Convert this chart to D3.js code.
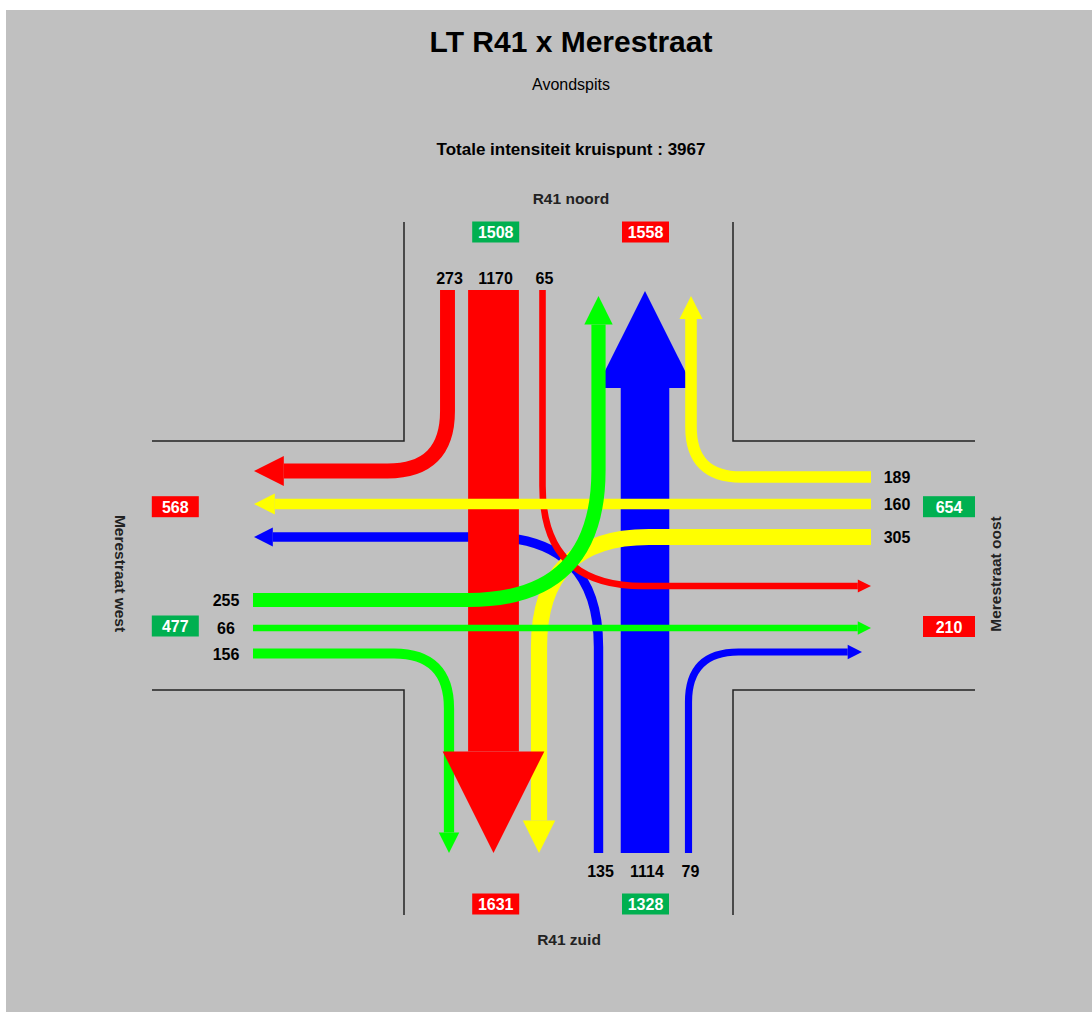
<!DOCTYPE html>
<html>
<head>
<meta charset="utf-8">
<script src="https://cdn.jsdelivr.net/npm/d3@7"></script>
<style>
body { margin: 0; background: #fff; }
svg { display: block; font-family: "Liberation Sans", Arial, sans-serif; }
</style>
</head>
<body>
<script>
// kruispunttelling - avondspits
const title = "LT R41 x Merestraat";
const subtitle = "Avondspits";
const totalLabel = "Totale intensiteit kruispunt : ";
const approaches = ["noord", "oost", "zuid", "west"];
const roadNames = ["R41 noord", "Merestraat oost", "R41 zuid", "Merestraat west"];
const moves = ["rechts", "rechtdoor", "links"];
// volumes per tak: rechtsaf, rechtdoor, linksaf
const volNoord = [273, 1170, 65];
const volOost = [189, 160, 305];
const volZuid = [79, 1114, 135];
const volWest = [156, 66, 255];
const flowColors = ["#ff0000", "#ffff00", "#0000ff", "#00ff00"];

const volumes = { noord: volNoord, oost: volOost, zuid: volZuid, west: volWest };

const W = 1092, H = 1012;
const svg = d3.select("body").append("svg").attr("width", W).attr("height", H);

svg.append("rect").attr("x", 6).attr("y", 10).attr("width", W - 6).attr("height", H - 10).attr("fill", "#c0c0c0");

// ---- layout ----
const isV = a => a == "noord" || a == "zuid";
// lane positions across each leg (x for noord/zuid, y for oost/west)
const laneIn = {
	noord: [447.5, 493.5, 542.5],
	oost: [477, 504, 537],
	zuid: [688.5, 645, 598.5],
	west: [653.5, 628, 600]
};
const laneOut = {
	noord: { west: 598.5, zuid: 645, oost: 691 },
	zuid: { west: 449, noord: 493.5, oost: 539 },
	west: { noord: 471, oost: 504, zuid: 537 },
	oost: { noord: 586, west: 628, zuid: 652 }
};
const edgeIn = { noord: 290, zuid: 853, west: 253, oost: 871 };
const edgeOut = { noord: 296, zuid: 853, west: 254, oost: 871 };
const tipTrim = { "zuid-oost": 9, "zuid-noord": -5 };
const turnLead = { noord: [60, 0, 100], oost: [50, 0, 110], zuid: [50, 0, 110], west: [55, 0, 130] };
const inDir = { noord: [0, 1], oost: [-1, 0], zuid: [0, -1], west: [1, 0] };
const outDir = { noord: [0, -1], oost: [1, 0], zuid: [0, 1], west: [-1, 0] };

const wScale = d3.scaleLinear().domain([0, 1000]).range([4, 44]);

function legPoint(a, lane, e) { return isV(a) ? [lane, e] : [e, lane]; }

// build flows
const flows = [];
approaches.forEach(function (a, i) {
	moves.forEach(function (m, j) {
		const dest = approaches[(i + [3, 2, 1][j]) % 4];
		flows.push({ from: a, to: dest, move: j, value: volumes[a][j], color: flowColors[i] });
	});
});

// totals
const totIn = {}, totOut = {};
approaches.forEach(function (a) {
	totIn[a] = d3.sum(flows.filter(f => f.from == a), f => f.value);
	totOut[a] = d3.sum(flows.filter(f => f.to == a), f => f.value);
});
const total = d3.sum(approaches, a => totIn[a]);

// road edges
const road = svg.append("g").attr("fill", "none").attr("stroke", "#222").attr("stroke-width", 1.5);
road.append("path").attr("d", "M404,222V441H152");
road.append("path").attr("d", "M733,222V441H975");
road.append("path").attr("d", "M152,690H404V915");
road.append("path").attr("d", "M975,690H733V915");

// draw order (bottom -> top)
const order = [["zuid", 2], ["zuid", 1], ["oost", 2], ["noord", 2], ["west", 0], ["noord", 1],
	["oost", 1], ["west", 2], ["west", 1], ["noord", 0], ["oost", 0], ["zuid", 0]];

const flowG = svg.append("g");
order.forEach(function (o) {
	const f = flows.find(d => d.from == o[0] && d.move == o[1]);
	const w = wScale(f.value);
	const din = inDir[f.from], dout = outDir[f.to];
	const start = legPoint(f.from, laneIn[f.from][f.move], edgeIn[f.from]);
	const trim = tipTrim[f.from + "-" + f.to] || 0;
	let tip = legPoint(f.to, laneOut[f.to][f.from], edgeOut[f.to]);
	tip = [tip[0] - dout[0] * trim, tip[1] - dout[1] * trim];
	const hl = 2 * w;
	const base = [tip[0] - dout[0] * hl, tip[1] - dout[1] * hl];

	const p = d3.path();
	p.moveTo(start[0], start[1]);
	if (f.move != 1) {
		const c = isV(f.from) ? [start[0], tip[1]] : [tip[0], start[1]];
		const d = turnLead[f.from][f.move];
		p.lineTo(c[0] - din[0] * d, c[1] - din[1] * d);
		p.quadraticCurveTo(c[0], c[1], c[0] + dout[0] * d, c[1] + dout[1] * d);
	}
	p.lineTo(base[0], base[1]);

	flowG.append("path")
		.attr("d", p.toString())
		.attr("fill", "none")
		.attr("stroke", f.color)
		.attr("stroke-width", w);

	const perp = [-dout[1], dout[0]];
	const head = [tip,
		[base[0] + perp[0] * w, base[1] + perp[1] * w],
		[base[0] - perp[0] * w, base[1] - perp[1] * w]];
	flowG.append("polygon")
		.attr("points", head.map(q => q.join(",")).join(" "))
		.attr("fill", f.color);
});

// volume labels at the approach
const labelG = svg.append("g").attr("font-size", 16).attr("font-weight", "bold").attr("fill", "#000").attr("text-anchor", "middle");
flows.forEach(function (f) {
	const lane = laneIn[f.from][f.move];
	let x, y;
	if (f.from == "noord") { x = lane + 2; y = 284; }
	else if (f.from == "zuid") { x = lane + 2; y = 877; }
	else if (f.from == "west") { x = 226; y = lane + 6; }
	else { x = 897; y = lane + 6; }
	labelG.append("text").attr("x", x).attr("y", y).text(f.value);
});

// totals boxes
const boxPos = {
	noord: { "in": [495.7, 232], out: [645.5, 232] },
	zuid: { "in": [645.5, 904], out: [495.7, 904] },
	west: { "in": [175.3, 626], out: [175.3, 506.7] },
	oost: { "in": [949, 506.7], out: [949, 626.5] }
};
approaches.forEach(function (a) {
	const bw = a == "oost" ? 52 : 47, bh = 21;
	[["in", totIn[a], "#00b050"], ["out", totOut[a], "#ff0000"]].forEach(function (b) {
		const c = boxPos[a][b[0]];
		svg.append("rect").attr("x", c[0] - bw / 2).attr("y", c[1] - bh / 2)
			.attr("width", bw).attr("height", bh).attr("fill", b[2]);
		svg.append("text").attr("x", c[0]).attr("y", c[1] + 6)
			.attr("text-anchor", "middle").attr("font-size", 16).attr("font-weight", "bold")
			.attr("fill", "#fff").text(b[1]);
	});
});

// road names
const nameG = svg.append("g").attr("font-size", 15.5).attr("font-weight", "bold").attr("fill", "#222").attr("text-anchor", "middle");
nameG.append("text").attr("x", 571).attr("y", 204).text(roadNames[0]);
nameG.append("text").attr("x", 569).attr("y", 944.5).text(roadNames[2]);
nameG.append("text").attr("transform", "translate(120,573.5) rotate(90)").attr("dy", "0.35em").text(roadNames[3]);
nameG.append("text").attr("transform", "translate(996,574) rotate(-90)").attr("dy", "0.35em").text(roadNames[1]);

// titles
svg.append("text").attr("x", 571).attr("y", 51.5).attr("text-anchor", "middle")
	.attr("font-size", 30).attr("font-weight", "bold").text(title);
svg.append("text").attr("x", 571).attr("y", 89.5).attr("text-anchor", "middle")
	.attr("font-size", 16).text(subtitle);
svg.append("text").attr("x", 571).attr("y", 155).attr("text-anchor", "middle")
	.attr("font-size", 17).attr("font-weight", "bold").text(totalLabel + total);
</script>
</body>
</html>
